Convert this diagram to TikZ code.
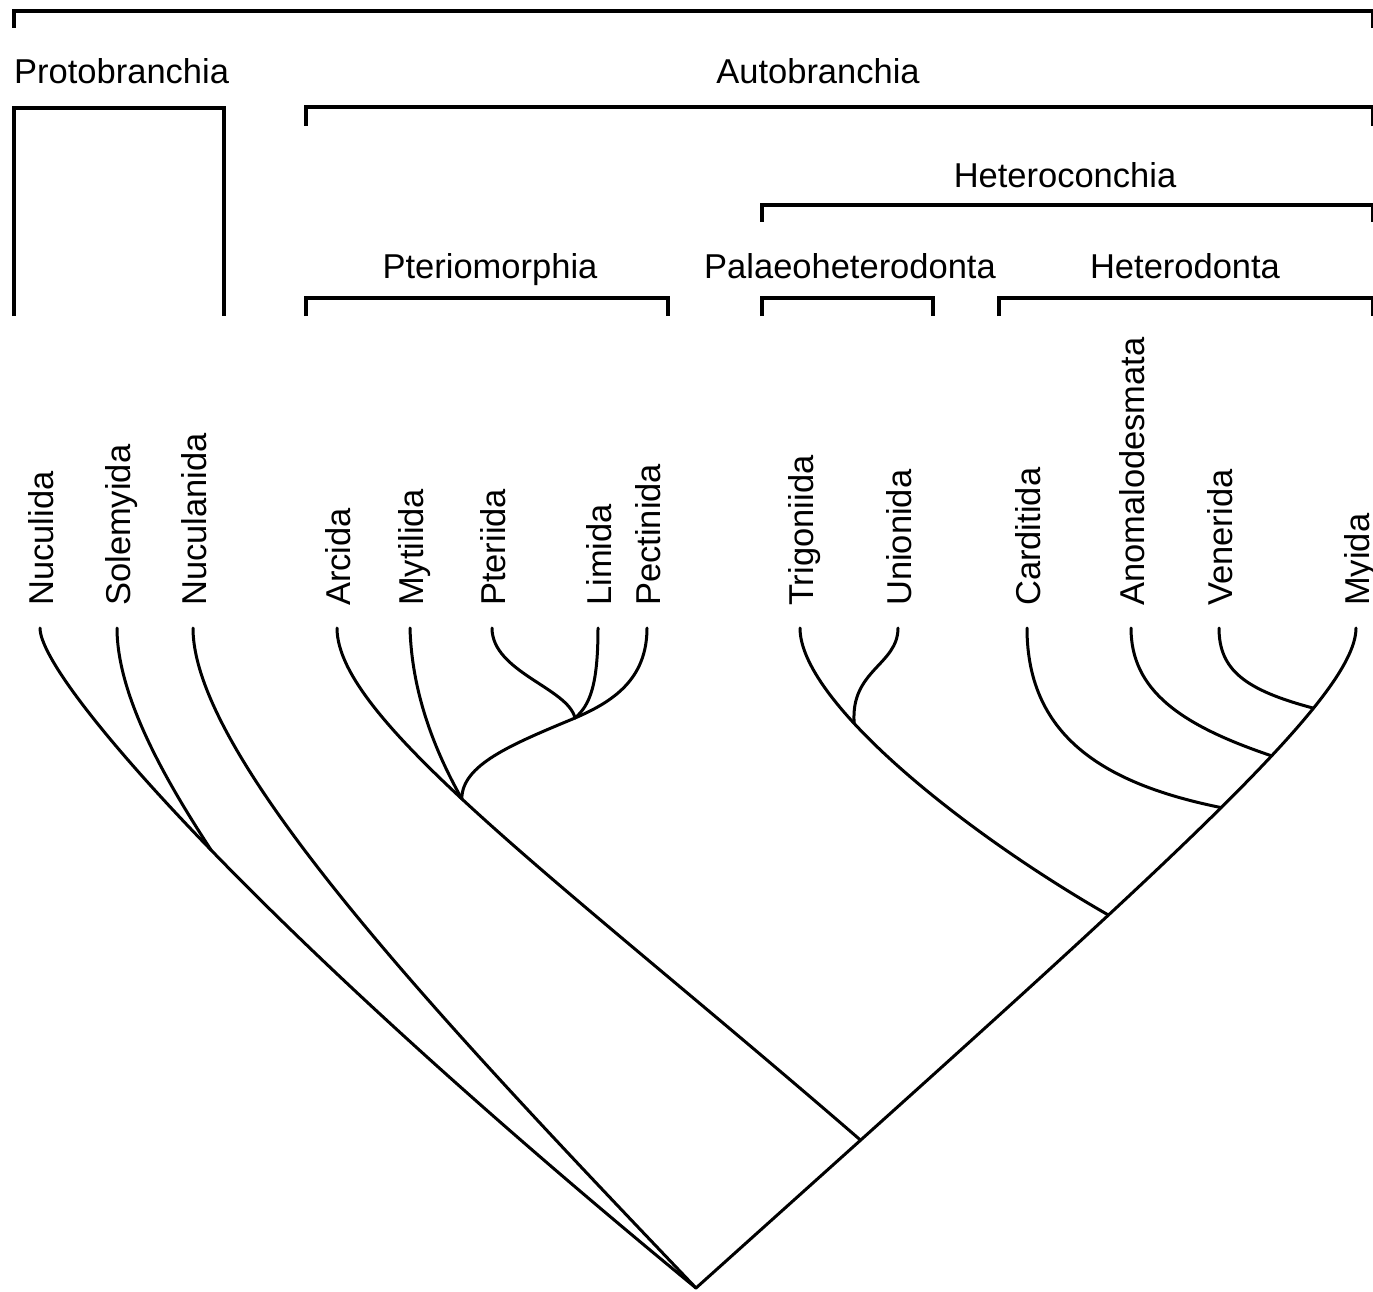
\documentclass[tikz,border=0pt]{standalone}
\usepackage{fontspec}
\setmainfont{Liberation Sans}
\usepackage{tikz}
\newcommand{\taxfont}{\fontsize{34.5}{40}\selectfont}

\begin{document}
\begin{tikzpicture}[
        x=1pt, y=-1pt,
        every node/.style={font=\taxfont},
        leaf/.style={rotate=90, anchor=west, inner sep=0pt,
                     text height=27pt, text depth=0pt},
        clade/.style={anchor=base, inner sep=0pt},
        bracket/.style={line width=3.4pt},
        branch/.style={line width=3pt, line cap=round},
      ]
        \useasboundingbox (0,0) rectangle (1373,1292);

        % clade labels
        \node[clade, anchor=base west] (proto) at (14,84)   {Protobranchia};
        \node[clade]                   (auto)  at (818,84)  {Autobranchia};
        \node[clade]                   (hconc) at (1065,188) {Heteroconchia};
        \node[clade]                   (pterio) at (490,278) {Pteriomorphia};
        \node[clade]                   (palaeo) at (850,278) {Palaeoheterodonta};
        \node[clade]                   (hdont) at (1185,278) {Heterodonta};

        % brackets
        \draw[bracket] (14,28)   -- (14,11)   -- (1373,11)  -- (1373,28);
        \draw[bracket] (14,316)  -- (14,108)  -- (224,108)  -- (224,316);
        \draw[bracket] (306,126) -- (306,107) -- (1373,107) -- (1373,126);
        \draw[bracket] (762,222) -- (762,205) -- (1373,205) -- (1373,222);
        \draw[bracket] (306,316) -- (306,298) -- (668,298)  -- (668,316);
        \draw[bracket] (762,316) -- (762,298) -- (933,298)  -- (933,316);
        \draw[bracket] (999,316) -- (999,298) -- (1373,298) -- (1373,316);

        % leaf labels
        \node[leaf] (nuc) at (40,606)   {Nuculida};
        \node[leaf] (sol) at (117,606)  {Solemyida};
        \node[leaf] (ncl) at (193,606)  {Nuculanida};
        \node[leaf] (arc) at (337,606)  {Arcida};
        \node[leaf] (myt) at (410,606)  {Mytilida};
        \node[leaf] (pte) at (492,606)  {Pteriida};
        \node[leaf] (lim) at (598,606)  {Limida};
        \node[leaf] (pec) at (647,606)  {Pectinida};
        \node[leaf] (tri) at (800,606)  {Trigoniida};
        \node[leaf] (uni) at (898,606)  {Unionida};
        \node[leaf] (car) at (1027,606) {Carditida};
        \node[leaf] (ano) at (1131,606) {Anomalodesmata};
        \node[leaf] (ven) at (1219,606) {Venerida};
        \node[leaf] (myi) at (1356,606) {Myida};

        % branch tips and fixed joins
        \foreach \t in {nuc,sol,ncl,arc,myt,pte,lim,pec,tri,uni,car,ano,ven,myi}
          \coordinate (\t T) at ([yshift=-22pt]\t.west);
        \coordinate (root) at (696,1288);
        \coordinate (jPte) at (575,718);

        % main spine and Heterodonta
        \draw[branch] (myiT) .. controls (1356,700) and (1150,880) .. (root)
          coordinate[pos=0.26] (jVen) coordinate[pos=0.365] (jAno)
          coordinate[pos=0.46] (jCar) coordinate[pos=0.62] (jHet)
          coordinate[pos=0.87] (jAut);
        \draw[branch] (venT) .. controls (1219,670) and (1245,690) .. (jVen);
        \draw[branch] (anoT) .. controls (1131,690) and (1180,725) .. (jAno);
        \draw[branch] (carT) .. controls (1027,740) and (1110,785) .. (jCar);

        % Palaeoheterodonta
        \draw[branch] (triT) .. controls (800,700) and (960,830) .. (jHet)
          coordinate[pos=0.36] (jUni);
        \draw[branch] (uniT) .. controls (898,665) and (850,670) .. (jUni);

        % Pteriomorphia
        \draw[branch] (arcT) .. controls (337,720) and (560,880) .. (jAut)
          coordinate[pos=0.455] (jMyt);
        \draw[branch] (mytT) .. controls (412,700) and (440,760) .. (jMyt);
        \draw[branch] (pecT) .. controls (647,680) and (612,702) .. (jPte);
        \draw[branch] (pteT) .. controls (492,672) and (568,688) .. (jPte);
        \draw[branch] (limT) .. controls (598,685) and (590,705) .. (jPte);
        \draw[branch] (jPte) .. controls (510,745) and (462,765) .. (jMyt);

        % Protobranchia
        \draw[branch] (nucT) .. controls (40,680) and (260,930) .. (root)
          coordinate[pos=0.51] (jSol);
        \draw[branch] (solT) .. controls (117,700) and (172,790) .. (jSol);
        \draw[branch] (nclT) .. controls (193,760) and (450,1030) .. (root);
      \end{tikzpicture}
\end{document}
